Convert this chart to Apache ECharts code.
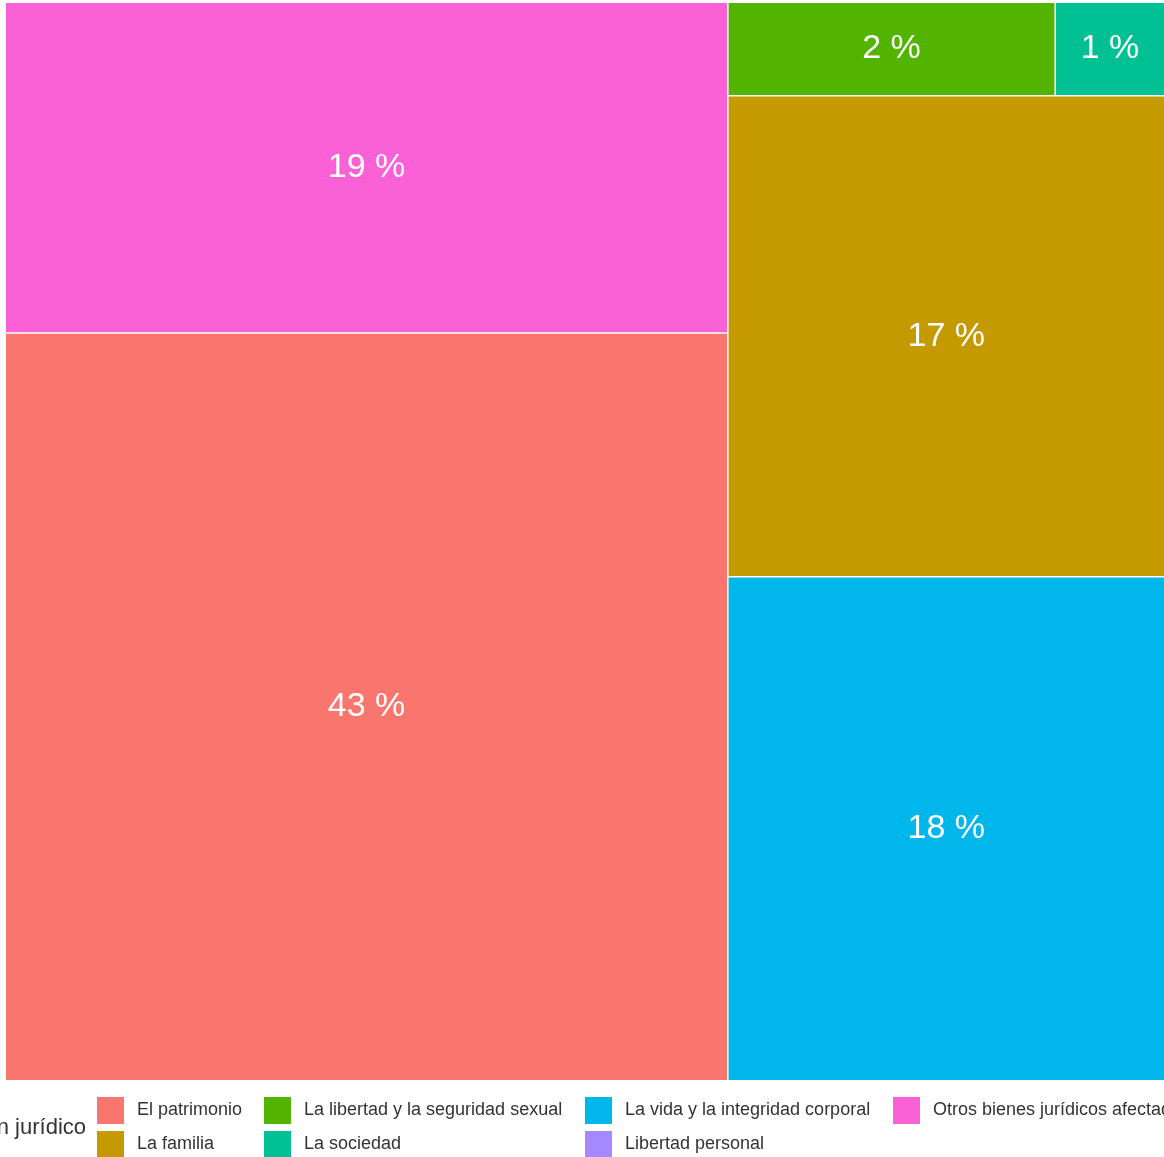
<!DOCTYPE html>
<html>
<head>
<meta charset="utf-8">
<script src="https://cdn.jsdelivr.net/npm/echarts@6/dist/echarts.min.js"></script>
<style>
html,body{margin:0;padding:0;background:#fff}
#chart{width:1164px;height:1157px}
</style>
</head>
<body>
<div id="chart"></div>
<script>
// categories in legend order (alphabetical, as ggplot sorts them)
var categories = ['El patrimonio', 'La familia', 'La libertad y la seguridad sexual', 'La sociedad',
	'La vida y la integridad corporal', 'Libertad personal', 'Otros bienes jurídicos afectados'];
var shares = [43.2, 16.8, 2.45, 0.82, 17.6, 0, 19.1];
var colors = ['#F8766D', '#C49A00', '#53B400', '#00C094', '#00B6EB', '#A58AFF', '#FB61D7'];
var legendTitle = 'Bien jurídico';

// order in which the tiles go to the squarify layout
var tileOrder = [6, 0, 2, 3, 1, 4, 5];
// legend keys, column by column
var legendCols = [[0, 1], [2, 3], [4, 5], [6]];

var FONT = '"Liberation Sans", Arial, sans-serif';

var chart = echarts.init(document.getElementById('chart'));

var tiles = tileOrder.map(function(i) {
	return {
		name: categories[i],
		value: shares[i],
		itemStyle: {color: colors[i]}
	};
});

// legend drawn by hand, ggplot style: title on the left, keys in columns
var colX = [97, 264, 585, 893];
var rowY = [1097, 1131];
var keySize = 27;
var graphics = [{
	type: 'text',
	x: 86,
	y: 1128,
	style: {
		text: legendTitle,
		textAlign: 'right',
		textVerticalAlign: 'middle',
		font: '22px ' + FONT,
		fill: '#333'
	}
}];
legendCols.forEach(function(col, c) {
	col.forEach(function(idx, r) {
		graphics.push({
			type: 'rect',
			shape: {x: colX[c], y: rowY[r], width: keySize, height: keySize},
			style: {fill: colors[idx]}
		});
		graphics.push({
			type: 'text',
			x: colX[c] + 40,
			y: rowY[r] + keySize / 2,
			style: {
				text: categories[idx],
				textAlign: 'left',
				textVerticalAlign: 'middle',
				font: '18px ' + FONT,
				fill: '#333'
			}
		});
	});
});

chart.setOption({
	animation: false,
	graphic: graphics,
	series: [{
		type: 'treemap',
		left: 6,
		top: 3,
		width: 1158,
		height: 1077,
		sort: false,
		roam: false,
		nodeClick: false,
		breadcrumb: {show: false},
		itemStyle: {gapWidth: 1.5, borderWidth: 0},
		label: {
			show: true,
			position: 'inside',
			color: '#fff',
			fontSize: 34,
			fontFamily: FONT,
			formatter: function(p) {
				return Math.round(p.value) + ' %';
			}
		},
		emphasis: {disabled: true},
		data: tiles
	}]
});
</script>
</body>
</html>
